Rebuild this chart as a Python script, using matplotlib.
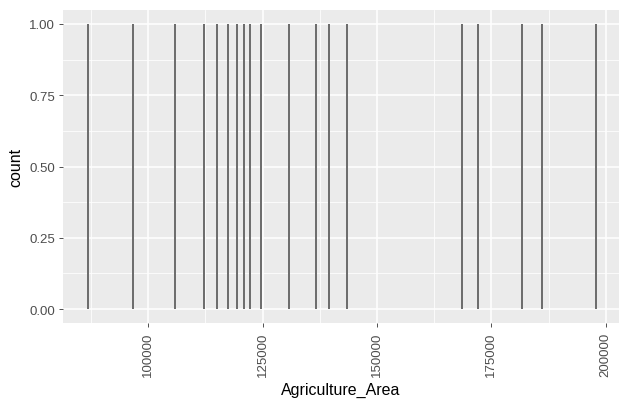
import matplotlib
matplotlib.use("Agg")
import matplotlib.pyplot as plt
import numpy as np

agriculture_area = [86883, 96589, 105837, 112243, 114954, 117359, 119392, 120922,
                    122300, 124639, 130695, 136663, 139571, 143375, 168649, 172016,
                    181766, 186138, 197813]
counts = [1] * len(agriculture_area)
x_ticks = [100000, 125000, 150000, 175000, 200000]
x_tick_labels = ["100000", "125000", "150000", "175000", "200000"]
y_ticks = [0.00, 0.25, 0.50, 0.75, 1.00]
y_tick_labels = ["0.00", "0.25", "0.50", "0.75", "1.00"]

plt.rcParams['font.family'] = ['Liberation Sans', 'DejaVu Sans']

fig = plt.figure(figsize=(6.19, 4.10), dpi=100)
W, H = 619, 410
left_px, right_px, top_px, bottom_px = 63.3, 619, 10.7, 324.3
ax = fig.add_axes([left_px / W, 1 - bottom_px / H, (right_px - left_px) / W, (bottom_px - top_px) / H])
ax.set_facecolor("#EBEBEB")
for s in ax.spines.values():
    s.set_visible(False)

ax.set_xlim(81417, 202907)
ax.set_ylim(-0.05, 1.05)

ax.set_xticks(x_ticks)
ax.set_xticks([87500, 112500, 137500, 162500, 187500], minor=True)
ax.set_yticks(y_ticks)
ax.set_yticks([0.125, 0.375, 0.625, 0.875], minor=True)
ax.grid(which="major", color="white", linewidth=1.1)
ax.grid(which="minor", color="white", linewidth=0.55)
ax.set_axisbelow(True)

ax.bar(agriculture_area, counts, width=430, color="#6E6E6E", linewidth=0)

ax.set_xticklabels(x_tick_labels, rotation=90, color="#4D4D4D", fontsize=9.5)
ax.set_yticklabels(y_tick_labels, color="#4D4D4D", fontsize=9.5)
ax.tick_params(which="major", length=3, width=0.6, color="#333333", pad=3)
ax.tick_params(which="minor", length=0)

ax.set_xlabel("Agriculture_Area", fontsize=11.5, color="black", labelpad=4)
ax.set_ylabel("count", fontsize=11.5, color="black", labelpad=4)

fig.savefig("out.png", dpi=100)
